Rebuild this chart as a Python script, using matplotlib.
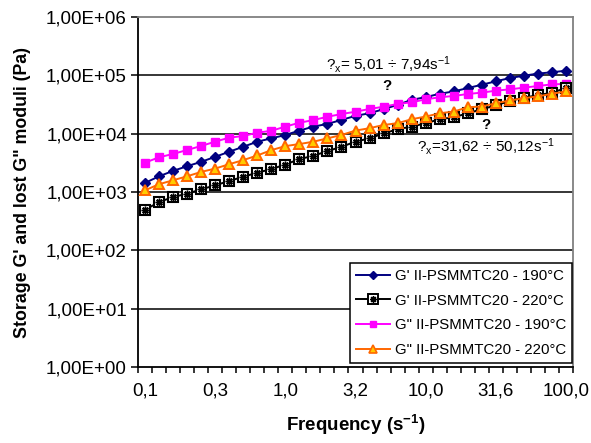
import matplotlib
matplotlib.use("Agg")
import matplotlib.pyplot as plt
from matplotlib.lines import Line2D

plt.rcParams['font.family'] = ['Liberation Sans', 'DejaVu Sans']
plt.rcParams['mathtext.fontset'] = 'custom'
plt.rcParams['mathtext.rm'] = 'Liberation Sans'
plt.rcParams['mathtext.bf'] = 'Liberation Sans:bold'
plt.rcParams['mathtext.it'] = 'Liberation Sans:italic'

frequency = [0.1, 0.126, 0.158, 0.2, 0.251, 0.316, 0.398, 0.501, 0.631, 0.794,
             1.0, 1.26, 1.58, 2.0, 2.51, 3.16, 3.98, 5.01, 6.31, 7.94,
             10.0, 12.6, 15.8, 20.0, 25.1, 31.6, 39.8, 50.1, 63.1, 79.4, 100.0]
freq_labels = ["0,1", "0,3", "1,0", "3,2", "10,0", "31,6", "100,0"]
label_every = 5

g1_190 = [1430, 1860, 2300, 2770, 3290, 4010, 4900, 5970, 7280, 8320,
          9480, 11300, 13200, 14700, 17200, 20200, 22400, 26300, 31200, 38000,
          42300, 48300, 53000, 60500, 69000, 78900, 90000, 98600, 107000, 113000, 120000]
g1_220 = [495, 673, 820, 935, 1110, 1300, 1550, 1820, 2150, 2460,
          2960, 3660, 4180, 5020, 5970, 7280, 8320, 10100, 11900, 13200,
          15100, 17700, 19100, 22400, 26300, 30500, 36500, 41500, 45500, 50500, 60500]
g2_190 = [3180, 3940, 4490, 5250, 6150, 7300, 8550, 9120, 10400, 11200,
          13200, 15400, 17100, 19500, 21700, 23800, 26500, 29000, 32300, 34500,
          38800, 42000, 44300, 47900, 50500, 54600, 57500, 61500, 65600, 70100, 71100]
g2_220 = [1070, 1360, 1590, 1860, 2210, 2520, 3000, 3520, 4230, 5220,
          6120, 6640, 7280, 8320, 9480, 11300, 12400, 14100, 15100, 17700,
          19600, 22400, 23900, 28400, 29200, 33300, 37100, 40600, 43500, 48300, 53000]

names = ["G' II-PSMMTC20 - 190°C", "G' II-PSMMTC20 - 220°C",
         "G\" II-PSMMTC20 - 190°C", "G\" II-PSMMTC20 - 220°C"]
ytick_labels = ["1,00E+00", "1,00E+01", "1,00E+02", "1,00E+03",
                "1,00E+04", "1,00E+05", "1,00E+06"]

W, H = 591, 443
fig = plt.figure(figsize=(W / 100, H / 100), dpi=100)
L, R, T, B = 138, 573, 17, 367
ax = fig.add_axes([L / W, (H - B) / H, (R - L) / W, (B - T) / H])

x = list(range(len(frequency)))

ax.set_yscale('log')
ax.set_ylim(1, 1e6)
ax.set_xlim(-0.5, len(frequency) - 0.5)

for v in [1e1, 1e2, 1e3, 1e4, 1e5]:
    ax.axhline(v, color='black', lw=1.1, zorder=1)

ax.plot(x, g1_190, color='#000080', lw=1.4, marker='D', ms=5.5,
        mfc='#000080', mec='#000080', zorder=3)
ax.plot(x, g1_220, color='black', lw=1.4, marker='s', ms=7.5,
        mfc='white', mec='black', mew=1.5, zorder=4)
ax.plot(x, g1_220, color='none', marker=(8, 2, 0), ms=5.5,
        mec='black', mew=1.1, zorder=5)
ax.plot(x, g2_190, color='#FF00FF', lw=1.4, marker='s', ms=5.3,
        mfc='#FF00FF', mec='#FF00FF', zorder=3)
ax.plot(x, g2_220, color='#FF6600', lw=1.4, marker='^', ms=6.8,
        mfc='#FFCC00', mec='#FF6600', mew=1.4, zorder=6)

ax.set_yticks([1, 10, 100, 1e3, 1e4, 1e5, 1e6])
ax.set_yticklabels(ytick_labels)
ax.yaxis.set_minor_locator(matplotlib.ticker.NullLocator())
ax.tick_params(axis='y', which='major', direction='out', length=5, width=1.1,
               labelsize=13.5, pad=3, colors='black')

ax.set_xticks([i - 0.5 for i in range(len(frequency) + 1)])
ax.set_xticklabels([])
ax.tick_params(axis='x', which='major', direction='out', length=4.5, width=1.1)
ax.set_xticks(list(range(0, len(frequency), label_every)), minor=True)
ax.set_xticklabels(freq_labels, minor=True)
ax.tick_params(axis='x', which='minor', length=0, labelsize=13.5, pad=11)

for s in ['left', 'bottom']:
    ax.spines[s].set_color('black')
    ax.spines[s].set_linewidth(1.3)
for s in ['top', 'right']:
    ax.spines[s].set_color('#808080')
    ax.spines[s].set_linewidth(1.3)

ax.set_xlabel(r"Frequency (s$^{\mathbf{-1}}$)", fontsize=13.5, fontweight='bold', labelpad=10)
ax.set_ylabel("Storage G' and lost G\" moduli (Pa)", fontsize=12.8, fontweight='bold', labelpad=11)

ax.text(0.432, 0.863, r"?$_{\mathrm{x}}$= 5,01 $\div$ 7,94s$^{\mathrm{-1}}$", transform=ax.transAxes,
        fontsize=11, ha='left', va='center')
ax.text(0.572, 0.803, "?", transform=ax.transAxes, fontsize=11, ha='center', va='center',
        fontweight='bold')
ax.text(0.800, 0.691, "?", transform=ax.transAxes, fontsize=11, ha='center', va='center',
        fontweight='bold')
ax.text(0.641, 0.629, r"?$_{\mathrm{x}}$=31,62 $\div$ 50,12s$^{\mathrm{-1}}$", transform=ax.transAxes,
        fontsize=11, ha='left', va='center')

h1 = Line2D([], [], color='#000080', lw=1.4, marker='D', ms=4.5, mfc='#000080', mec='#000080')
h2a = Line2D([], [], color='black', lw=1.4, marker='s', ms=6.5, mfc='white', mec='black', mew=1.4)
h2b = Line2D([], [], color='none', marker=(8, 2, 0), ms=4.8, mec='black', mew=1.0)
h3 = Line2D([], [], color='#FF00FF', lw=1.4, marker='s', ms=4.5, mfc='#FF00FF', mec='#FF00FF')
h4 = Line2D([], [], color='#FF6600', lw=1.4, marker='^', ms=5.5, mfc='#FFCC00', mec='#FF6600', mew=1.2)

leg = ax.legend([h1, (h2a, h2b), h3, h4], names, loc='lower right',
                bbox_to_anchor=(0.998, 0.011), fontsize=10.8, frameon=True,
                fancybox=False, edgecolor='black', framealpha=1, borderpad=0.4,
                labelspacing=0.72, handlelength=2.3, handletextpad=0.3,
                borderaxespad=0)
leg.get_frame().set_linewidth(1.1)
leg.set_zorder(10)

fig.savefig("out.png", dpi=100)
